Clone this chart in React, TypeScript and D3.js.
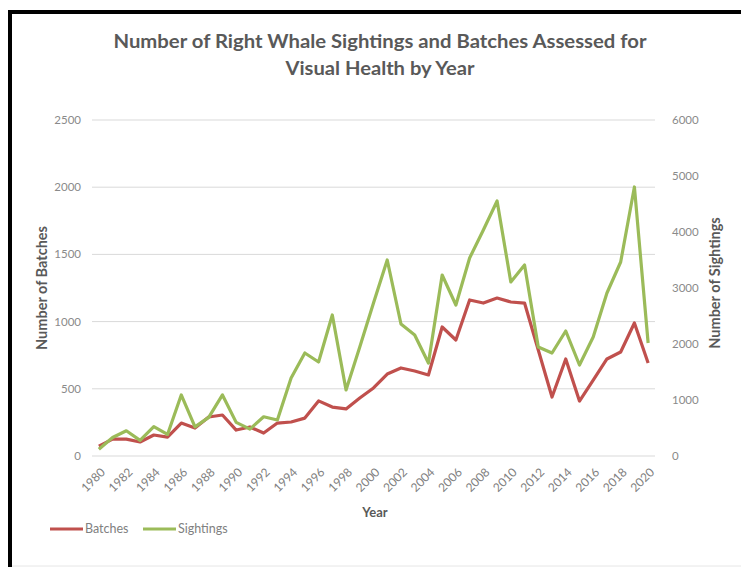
import React from "react";
import * as d3 from "d3";

const years = d3.range(1980, 2021).map(String);
const batches = [74, 126, 126, 104, 156, 141, 245, 208, 290, 305, 193, 216, 171, 245, 253, 282, 410, 364, 350, 432, 506, 610, 655, 632, 603, 960, 863, 1161, 1138, 1175, 1146, 1138, 789, 439, 722, 409, 565, 722, 774, 990, 692];
const sightings = [120, 330, 450, 280, 525, 385, 1090, 520, 690, 1090, 600, 480, 700, 643, 1393, 1839, 1679, 2518, 1179, 1946, 2732, 3500, 2357, 2161, 1661, 3232, 2696, 3536, 4036, 4554, 3107, 3411, 1946, 1839, 2232, 1625, 2125, 2911, 3464, 4804, 2018];
const leftTicks = [0, 500, 1000, 1500, 2000, 2500];
const rightTicks = [0, 1000, 2000, 3000, 4000, 5000, 6000];
const xLabels = years.filter((y) => +y % 2 === 0);

const RED = "#C0504D";
const GREEN = "#9BBB59";
const FONT = "Lato, 'Open Sans', sans-serif";

export default function App() {
  const W = 741, H = 567;
  const x = d3.scaleBand<string>().domain(years).range([92, 655]);
  const cx = (y: string) => (x(y) as number) + x.bandwidth() / 2;
  const yL = d3.scaleLinear().domain([0, 2500]).range([456, 120]);
  const yR = d3.scaleLinear().domain([0, 6000]).range([456, 120]);
  const lineB = d3.line<number>().x((_, i) => cx(years[i])).y((d) => yL(d));
  const lineS = d3.line<number>().x((_, i) => cx(years[i])).y((d) => yR(d));

  return (
    <svg width={W} height={H} style={{ position: "absolute", left: 0, top: 0, background: "#fff" }} fontFamily={FONT}>
      <rect x={0} y={0} width={W} height={H} fill="#fff" />
      <rect x={8} y={10} width={W - 8} height={4} fill="#000" />
      <rect x={8} y={10} width={4} height={H - 10} fill="#000" />
      <line x1={12} x2={W} y1={566} y2={566} stroke="#e6e6e6" strokeWidth={1} />

      <text x={380} y={48} textAnchor="middle" fontSize={19} fontWeight={700} fill="#595959" textLength={533} lengthAdjust="spacingAndGlyphs">
        Number of Right Whale Sightings and Batches Assessed for
      </text>
      <text x={380} y={75} textAnchor="middle" fontSize={19} fontWeight={700} fill="#595959" textLength={189} lengthAdjust="spacingAndGlyphs">
        Visual Health by Year
      </text>

      {leftTicks.map((t) => (
        <line key={t} x1={92} x2={655} y1={yL(t)} y2={yL(t)} stroke="#D9D9D9" strokeWidth={1} />
      ))}

      {leftTicks.map((t) => (
        <text key={t} x={81} y={yL(t)} dy="0.35em" textAnchor="end" fontSize={11.5} fill="#8a8a8a">
          {t}
        </text>
      ))}
      {rightTicks.map((t) => (
        <text key={t} x={672} y={yR(t)} dy="0.35em" textAnchor="start" fontSize={11.5} fill="#8a8a8a">
          {t}
        </text>
      ))}

      {xLabels.map((y) => (
        <text key={y} transform={`translate(${cx(y) + 4},${470}) rotate(-45)`} dy="0.35em" textAnchor="end" fontSize={12} fill="#808080">
          {y}
        </text>
      ))}

      <text transform="translate(42,288) rotate(-90)" dy="0.35em" textAnchor="middle" fontSize={14.5} fontWeight={700} fill="#595959">
        Number of Batches
      </text>
      <text transform="translate(715,283) rotate(-90)" dy="0.35em" textAnchor="middle" fontSize={14.5} fontWeight={700} fill="#595959">
        Number of Sightings
      </text>
      <text x={375} y={517} textAnchor="middle" fontSize={13} fontWeight={700} fill="#595959">
        Year
      </text>

      <path d={lineB(batches) || ""} fill="none" stroke={RED} strokeWidth={3.2} strokeLinejoin="round" />
      <path d={lineS(sightings) || ""} fill="none" stroke={GREEN} strokeWidth={3.2} strokeLinejoin="round" />

      <line x1={50} x2={83} y1={529} y2={529} stroke={RED} strokeWidth={3.2} />
      <text x={85} y={529} dy="0.35em" fontSize={12.5} fill="#808080">Batches</text>
      <line x1={143} x2={176} y1={529} y2={529} stroke={GREEN} strokeWidth={3.2} />
      <text x={178} y={529} dy="0.35em" fontSize={12.5} fill="#808080">Sightings</text>
    </svg>
  );
}
